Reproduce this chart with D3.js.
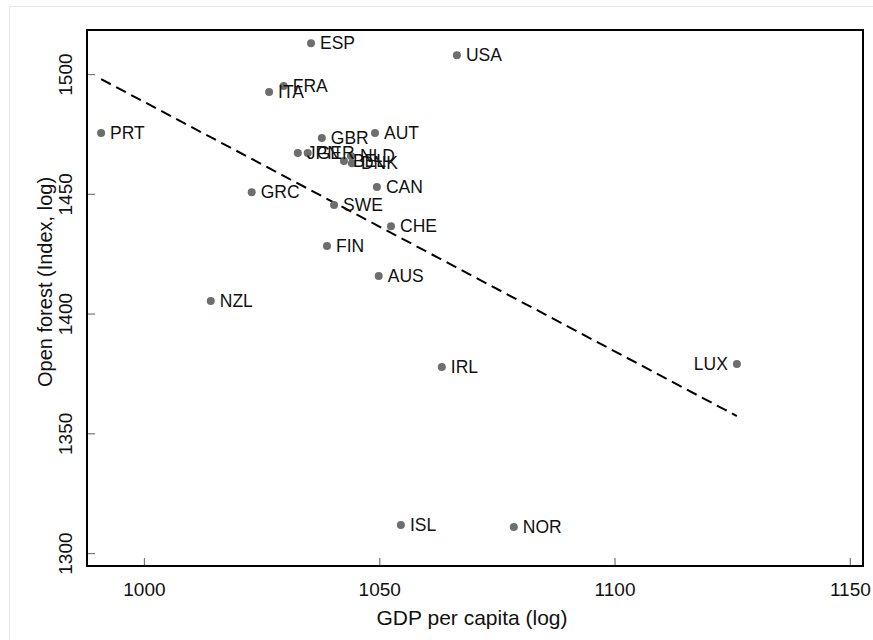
<!DOCTYPE html>
<html><head><meta charset="utf-8">
<script src="https://cdn.jsdelivr.net/npm/d3@7"></script>
<style>body{margin:0;background:#fff;} svg{display:block;font-family:"Liberation Sans",Arial,sans-serif;}</style>
</head><body><svg id="c" width="873" height="640"></svg>
<script>
const countries = ["ESP","USA","FRA","ITA","PRT","GBR","AUT","JPN","GER","NLD","BEL","DNK","CAN","GRC","SWE","CHE","FIN","AUS","NZL","IRL","LUX","ISL","NOR"];
const gdp = [1035.5,1066.5,1029.7,1026.6,990.9,1037.8,1049.1,1032.7,1034.8,1044.0,1042.5,1044.2,1049.5,1022.9,1040.4,1052.5,1038.9,1049.9,1014.2,1063.3,1126.0,1054.6,1078.6];
const forest = [1512.9,1507.9,1495.0,1492.5,1475.4,1473.3,1475.4,1467.0,1467.0,1465.8,1463.7,1462.8,1452.8,1450.7,1445.3,1436.5,1428.2,1415.7,1405.2,1377.7,1378.9,1311.7,1310.9];
const labelLeft = ["LUX"];
const fitX = [990.9, 1126.0];
const fitY = [1497.9, 1357.2];
const xTicks = [1000,1050,1100,1150];
const yTicks = [1300,1350,1400,1450,1500];

const svg = d3.select("#c");
const L=87, R=863, T=30, B=566;
const x = d3.scaleLinear().domain([987.9,1152.8]).range([L,R]);
const y = d3.scaleLinear().domain([1294.6,1518.4]).range([B,T]);

svg.append("rect").attr("x",9.5).attr("y",6.5).attr("width",900).attr("height",700)
  .attr("fill","none").attr("stroke","#e6e6e6");

const gx = svg.append("g").attr("transform",`translate(0,${B})`)
  .call(d3.axisBottom(x).tickValues(xTicks).tickSize(-8).tickPadding(17).tickFormat(d3.format("d")));
const gy = svg.append("g").attr("transform",`translate(${L},0)`)
  .call(d3.axisLeft(y).tickValues(yTicks).tickSize(-8).tickPadding(14).tickFormat(d3.format("d")));
[gx,gy].forEach(g=>{g.select(".domain").remove();g.selectAll(".tick line").attr("stroke","#777").attr("stroke-width",1.2);
  g.selectAll(".tick text").attr("fill","#111").attr("font-size",19).attr("font-family","Liberation Sans, Arial, sans-serif");});
gy.selectAll(".tick text").each(function(){
  d3.select(this).attr("x",null).attr("dy",null).attr("text-anchor","middle").attr("transform","translate(-15,0) rotate(-90)");
});

svg.append("rect").attr("x",L).attr("y",T).attr("width",R-L).attr("height",B-T)
  .attr("fill","none").attr("stroke","#000").attr("stroke-width",2);

svg.append("line").attr("x1",x(fitX[0])).attr("y1",y(fitY[0])).attr("x2",x(fitX[1])).attr("y2",y(fitY[1]))
  .attr("stroke","#000").attr("stroke-width",2).attr("stroke-dasharray","11,6");

const data = countries.map((c,i)=>({c,gx:gdp[i],fy:forest[i]}));
svg.append("g").selectAll("circle").data(data).join("circle")
  .attr("cx",d=>x(d.gx)).attr("cy",d=>y(d.fy)).attr("r",4).attr("fill","#6e6e6e");
svg.append("g").selectAll("text").data(data).join("text")
  .attr("x",d=>labelLeft.includes(d.c)?x(d.gx)-9:x(d.gx)+9)
  .attr("y",d=>y(d.fy)).attr("dy","0.36em")
  .attr("text-anchor",d=>labelLeft.includes(d.c)?"end":"start")
  .attr("font-size",17.5).attr("fill","#111").text(d=>d.c);

svg.append("text").attr("x",(L+R)/2-3).attr("y",625).attr("text-anchor","middle")
  .attr("font-size",21).attr("fill","#111").text("GDP per capita (log)");
svg.append("text").attr("transform",`translate(52,${(T+B)/2-16}) rotate(-90)`).attr("text-anchor","middle")
  .attr("font-size",20).attr("fill","#111").text("Open forest (Index, log)");
</script></body></html>
